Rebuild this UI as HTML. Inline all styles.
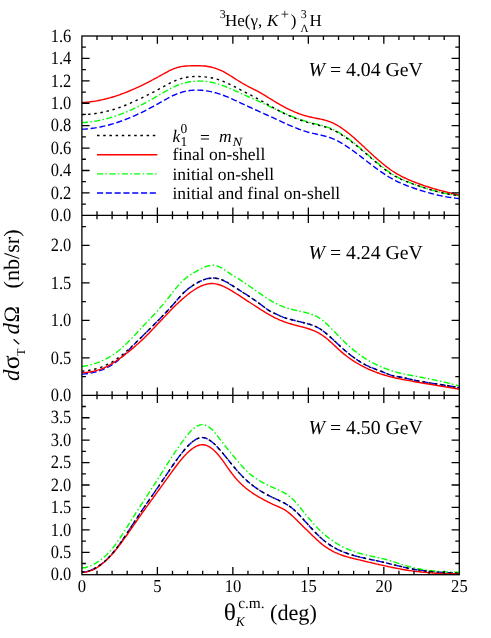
<!DOCTYPE html>
<html><head><meta charset="utf-8"><title>plot</title>
<style>
html,body{margin:0;padding:0;background:#fff;}
body{width:491px;height:638px;overflow:hidden;font-family:"Liberation Serif",serif;}
svg{display:block;position:absolute;left:0;top:0;will-change:transform;}
svg text{font-family:"Liberation Serif",serif;fill:#000;text-rendering:geometricPrecision;}
.it{font-style:italic;}
</style></head><body>
<svg width="491" height="638" viewBox="0 0 491 638">
<rect x="0" y="0" width="491" height="638" fill="#fff"/>

<g fill="none" stroke-width="1.4" stroke-linejoin="round">
<clipPath id="c1"><rect x="81.9" y="36.0" width="377.4" height="179.3"/></clipPath>
<g clip-path="url(#c1)">
<path d="M81.9 129.24 L83.4 129.17 L84.9 129.08 L86.4 128.96 L87.9 128.83 L89.4 128.68 L90.9 128.51 L92.4 128.31 L93.9 128.10 L95.4 127.87 L96.9 127.62 L98.4 127.35 L99.9 127.07 L101.4 126.76 L102.9 126.44 L104.4 126.09 L105.9 125.73 L107.4 125.36 L108.9 124.96 L110.4 124.55 L111.9 124.12 L113.4 123.67 L114.9 123.21 L116.4 122.73 L117.9 122.24 L119.4 121.73 L120.9 121.20 L122.4 120.65 L123.9 120.10 L125.4 119.52 L126.9 118.93 L128.4 118.33 L129.9 117.71 L131.4 117.08 L132.9 116.43 L134.4 115.77 L135.9 115.09 L137.4 114.40 L138.9 113.70 L140.4 112.98 L141.9 112.26 L143.4 111.52 L144.9 110.76 L146.4 110.00 L147.9 109.23 L149.4 108.44 L150.9 107.65 L152.4 106.85 L153.9 106.04 L155.4 105.22 L156.9 104.39 L158.4 103.56 L159.9 102.72 L161.4 101.87 L162.9 101.03 L164.4 100.18 L165.9 99.34 L167.4 98.51 L168.9 97.70 L170.4 96.92 L171.9 96.16 L173.4 95.43 L174.9 94.75 L176.4 94.11 L177.9 93.52 L179.4 92.98 L180.9 92.49 L182.4 92.05 L183.9 91.66 L185.4 91.31 L186.9 91.01 L188.4 90.76 L189.9 90.55 L191.4 90.38 L192.9 90.26 L194.4 90.17 L195.9 90.13 L197.4 90.12 L198.9 90.15 L200.4 90.22 L201.9 90.32 L203.4 90.46 L204.9 90.63 L206.4 90.84 L207.9 91.07 L209.4 91.34 L210.9 91.65 L212.4 91.98 L213.9 92.35 L215.4 92.75 L216.9 93.18 L218.4 93.64 L219.9 94.13 L221.4 94.64 L222.9 95.19 L224.4 95.76 L225.9 96.35 L227.4 96.96 L228.9 97.60 L230.4 98.24 L231.9 98.91 L233.4 99.58 L234.9 100.27 L236.4 100.96 L237.9 101.66 L239.4 102.36 L240.9 103.07 L242.4 103.78 L243.9 104.48 L245.4 105.18 L246.9 105.88 L248.4 106.57 L249.9 107.26 L251.4 107.94 L252.9 108.63 L254.4 109.31 L255.9 109.99 L257.4 110.67 L258.9 111.35 L260.4 112.03 L261.9 112.71 L263.4 113.38 L264.9 114.06 L266.4 114.74 L267.9 115.42 L269.4 116.10 L270.9 116.79 L272.4 117.47 L273.9 118.16 L275.4 118.85 L276.9 119.55 L278.4 120.24 L279.9 120.94 L281.4 121.63 L282.9 122.32 L284.4 123.01 L285.9 123.69 L287.4 124.37 L288.9 125.03 L290.4 125.69 L291.9 126.33 L293.4 126.96 L294.9 127.58 L296.4 128.18 L297.9 128.76 L299.4 129.33 L300.9 129.87 L302.4 130.40 L303.9 130.90 L305.4 131.37 L306.9 131.82 L308.4 132.25 L309.9 132.64 L311.4 133.01 L312.9 133.36 L314.4 133.69 L315.9 134.02 L317.4 134.34 L318.9 134.66 L320.4 134.99 L321.9 135.34 L323.4 135.70 L324.9 136.08 L326.4 136.50 L327.9 136.95 L329.4 137.44 L330.9 137.97 L332.4 138.56 L333.9 139.19 L335.4 139.88 L336.9 140.61 L338.4 141.38 L339.9 142.20 L341.4 143.05 L342.9 143.95 L344.4 144.87 L345.9 145.83 L347.4 146.82 L348.9 147.84 L350.4 148.88 L351.9 149.94 L353.4 151.03 L354.9 152.13 L356.4 153.25 L357.9 154.38 L359.4 155.52 L360.9 156.67 L362.4 157.83 L363.9 158.99 L365.4 160.15 L366.9 161.32 L368.4 162.48 L369.9 163.63 L371.4 164.78 L372.9 165.91 L374.4 167.04 L375.9 168.15 L377.4 169.25 L378.9 170.32 L380.4 171.38 L381.9 172.42 L383.4 173.44 L384.9 174.43 L386.4 175.40 L387.9 176.34 L389.4 177.25 L390.9 178.13 L392.4 178.97 L393.9 179.78 L395.4 180.55 L396.9 181.30 L398.4 182.02 L399.9 182.71 L401.4 183.37 L402.9 184.01 L404.4 184.63 L405.9 185.23 L407.4 185.81 L408.9 186.37 L410.4 186.92 L411.9 187.45 L413.4 187.98 L414.9 188.49 L416.4 189.00 L417.9 189.50 L419.4 189.98 L420.9 190.46 L422.4 190.93 L423.9 191.38 L425.4 191.83 L426.9 192.26 L428.4 192.68 L429.9 193.10 L431.4 193.50 L432.9 193.88 L434.4 194.26 L435.9 194.63 L437.4 194.98 L438.9 195.32 L440.4 195.64 L441.9 195.96 L443.4 196.26 L444.9 196.55 L446.4 196.82 L447.9 197.08 L449.4 197.32 L450.9 197.55 L452.4 197.77 L453.9 197.97 L455.4 198.16 L456.9 198.33 L458.4 198.49 L459.3 198.49" stroke="#0000ff" stroke-dasharray="6.1 2.7"/>
<path d="M81.9 122.62 L83.4 122.53 L84.9 122.43 L86.4 122.30 L87.9 122.15 L89.4 121.98 L90.9 121.80 L92.4 121.59 L93.9 121.36 L95.4 121.12 L96.9 120.86 L98.4 120.57 L99.9 120.27 L101.4 119.95 L102.9 119.61 L104.4 119.25 L105.9 118.88 L107.4 118.48 L108.9 118.07 L110.4 117.64 L111.9 117.19 L113.4 116.72 L114.9 116.24 L116.4 115.73 L117.9 115.21 L119.4 114.68 L120.9 114.12 L122.4 113.55 L123.9 112.96 L125.4 112.36 L126.9 111.74 L128.4 111.10 L129.9 110.44 L131.4 109.77 L132.9 109.09 L134.4 108.38 L135.9 107.66 L137.4 106.93 L138.9 106.18 L140.4 105.41 L141.9 104.63 L143.4 103.84 L144.9 103.03 L146.4 102.22 L147.9 101.39 L149.4 100.56 L150.9 99.72 L152.4 98.87 L153.9 98.01 L155.4 97.15 L156.9 96.29 L158.4 95.42 L159.9 94.55 L161.4 93.68 L162.9 92.81 L164.4 91.94 L165.9 91.08 L167.4 90.24 L168.9 89.42 L170.4 88.62 L171.9 87.85 L173.4 87.11 L174.9 86.41 L176.4 85.74 L177.9 85.12 L179.4 84.55 L180.9 84.02 L182.4 83.54 L183.9 83.10 L185.4 82.71 L186.9 82.36 L188.4 82.05 L189.9 81.79 L191.4 81.57 L192.9 81.39 L194.4 81.25 L195.9 81.15 L197.4 81.09 L198.9 81.07 L200.4 81.09 L201.9 81.14 L203.4 81.24 L204.9 81.37 L206.4 81.53 L207.9 81.74 L209.4 81.98 L210.9 82.25 L212.4 82.56 L213.9 82.90 L215.4 83.28 L216.9 83.69 L218.4 84.13 L219.9 84.60 L221.4 85.10 L222.9 85.63 L224.4 86.19 L225.9 86.77 L227.4 87.37 L228.9 87.99 L230.4 88.63 L231.9 89.28 L233.4 89.94 L234.9 90.62 L236.4 91.30 L237.9 91.98 L239.4 92.67 L240.9 93.36 L242.4 94.04 L243.9 94.73 L245.4 95.40 L246.9 96.07 L248.4 96.74 L249.9 97.40 L251.4 98.06 L252.9 98.73 L254.4 99.39 L255.9 100.06 L257.4 100.73 L258.9 101.41 L260.4 102.10 L261.9 102.79 L263.4 103.49 L264.9 104.20 L266.4 104.91 L267.9 105.62 L269.4 106.34 L270.9 107.05 L272.4 107.76 L273.9 108.47 L275.4 109.18 L276.9 109.88 L278.4 110.57 L279.9 111.26 L281.4 111.94 L282.9 112.61 L284.4 113.27 L285.9 113.92 L287.4 114.57 L288.9 115.20 L290.4 115.82 L291.9 116.42 L293.4 117.02 L294.9 117.59 L296.4 118.16 L297.9 118.71 L299.4 119.24 L300.9 119.76 L302.4 120.26 L303.9 120.74 L305.4 121.20 L306.9 121.65 L308.4 122.07 L309.9 122.47 L311.4 122.86 L312.9 123.23 L314.4 123.59 L315.9 123.95 L317.4 124.31 L318.9 124.68 L320.4 125.06 L321.9 125.46 L323.4 125.88 L324.9 126.33 L326.4 126.80 L327.9 127.31 L329.4 127.87 L330.9 128.47 L332.4 129.12 L333.9 129.82 L335.4 130.57 L336.9 131.36 L338.4 132.20 L339.9 133.08 L341.4 134.01 L342.9 134.97 L344.4 135.96 L345.9 136.99 L347.4 138.06 L348.9 139.15 L350.4 140.27 L351.9 141.42 L353.4 142.59 L354.9 143.78 L356.4 145.00 L357.9 146.23 L359.4 147.47 L360.9 148.73 L362.4 150.00 L363.9 151.28 L365.4 152.57 L366.9 153.86 L368.4 155.16 L369.9 156.46 L371.4 157.75 L372.9 159.04 L374.4 160.33 L375.9 161.61 L377.4 162.87 L378.9 164.12 L380.4 165.35 L381.9 166.55 L383.4 167.73 L384.9 168.88 L386.4 170.00 L387.9 171.09 L389.4 172.13 L390.9 173.14 L392.4 174.10 L393.9 175.01 L395.4 175.89 L396.9 176.72 L398.4 177.51 L399.9 178.26 L401.4 178.99 L402.9 179.68 L404.4 180.35 L405.9 180.99 L407.4 181.61 L408.9 182.21 L410.4 182.79 L411.9 183.36 L413.4 183.92 L414.9 184.47 L416.4 185.01 L417.9 185.55 L419.4 186.07 L420.9 186.59 L422.4 187.10 L423.9 187.59 L425.4 188.08 L426.9 188.55 L428.4 189.02 L429.9 189.47 L431.4 189.91 L432.9 190.34 L434.4 190.76 L435.9 191.17 L437.4 191.56 L438.9 191.94 L440.4 192.30 L441.9 192.65 L443.4 192.99 L444.9 193.31 L446.4 193.62 L447.9 193.91 L449.4 194.19 L450.9 194.45 L452.4 194.70 L453.9 194.92 L455.4 195.14 L456.9 195.33 L458.4 195.51 L459.3 195.51" stroke="#00ff00" stroke-dasharray="6.1 2.4 1.5 2.4"/>
<path d="M81.9 102.49 L83.4 102.42 L84.9 102.33 L86.4 102.21 L87.9 102.08 L89.4 101.92 L90.9 101.74 L92.4 101.54 L93.9 101.32 L95.4 101.08 L96.9 100.82 L98.4 100.55 L99.9 100.25 L101.4 99.93 L102.9 99.60 L104.4 99.25 L105.9 98.88 L107.4 98.49 L108.9 98.09 L110.4 97.67 L111.9 97.23 L113.4 96.77 L114.9 96.30 L116.4 95.82 L117.9 95.31 L119.4 94.79 L120.9 94.26 L122.4 93.71 L123.9 93.15 L125.4 92.57 L126.9 91.98 L128.4 91.37 L129.9 90.75 L131.4 90.12 L132.9 89.47 L134.4 88.81 L135.9 88.14 L137.4 87.46 L138.9 86.76 L140.4 86.05 L141.9 85.33 L143.4 84.60 L144.9 83.86 L146.4 83.11 L147.9 82.35 L149.4 81.58 L150.9 80.79 L152.4 80.00 L153.9 79.20 L155.4 78.39 L156.9 77.58 L158.4 76.75 L159.9 75.92 L161.4 75.08 L162.9 74.24 L164.4 73.40 L165.9 72.57 L167.4 71.77 L168.9 70.99 L170.4 70.24 L171.9 69.54 L173.4 68.90 L174.9 68.31 L176.4 67.79 L177.9 67.34 L179.4 66.97 L180.9 66.66 L182.4 66.41 L183.9 66.22 L185.4 66.07 L186.9 65.96 L188.4 65.89 L189.9 65.83 L191.4 65.80 L192.9 65.78 L194.4 65.76 L195.9 65.74 L197.4 65.73 L198.9 65.74 L200.4 65.77 L201.9 65.83 L203.4 65.93 L204.9 66.06 L206.4 66.24 L207.9 66.46 L209.4 66.73 L210.9 67.05 L212.4 67.41 L213.9 67.82 L215.4 68.29 L216.9 68.81 L218.4 69.38 L219.9 70.02 L221.4 70.71 L222.9 71.45 L224.4 72.24 L225.9 73.07 L227.4 73.93 L228.9 74.82 L230.4 75.74 L231.9 76.67 L233.4 77.62 L234.9 78.57 L236.4 79.52 L237.9 80.47 L239.4 81.41 L240.9 82.33 L242.4 83.23 L243.9 84.10 L245.4 84.94 L246.9 85.76 L248.4 86.55 L249.9 87.33 L251.4 88.09 L252.9 88.86 L254.4 89.62 L255.9 90.39 L257.4 91.18 L258.9 91.98 L260.4 92.81 L261.9 93.67 L263.4 94.55 L264.9 95.46 L266.4 96.37 L267.9 97.30 L269.4 98.24 L270.9 99.17 L272.4 100.10 L273.9 101.03 L275.4 101.94 L276.9 102.83 L278.4 103.71 L279.9 104.57 L281.4 105.41 L282.9 106.23 L284.4 107.03 L285.9 107.81 L287.4 108.57 L288.9 109.31 L290.4 110.03 L291.9 110.72 L293.4 111.39 L294.9 112.03 L296.4 112.65 L297.9 113.24 L299.4 113.80 L300.9 114.34 L302.4 114.85 L303.9 115.33 L305.4 115.78 L306.9 116.20 L308.4 116.59 L309.9 116.95 L311.4 117.29 L312.9 117.60 L314.4 117.90 L315.9 118.19 L317.4 118.47 L318.9 118.77 L320.4 119.08 L321.9 119.40 L323.4 119.76 L324.9 120.14 L326.4 120.57 L327.9 121.04 L329.4 121.56 L330.9 122.14 L332.4 122.78 L333.9 123.49 L335.4 124.27 L336.9 125.10 L338.4 125.99 L339.9 126.93 L341.4 127.92 L342.9 128.96 L344.4 130.05 L345.9 131.17 L347.4 132.34 L348.9 133.54 L350.4 134.77 L351.9 136.03 L353.4 137.32 L354.9 138.63 L356.4 139.97 L357.9 141.32 L359.4 142.69 L360.9 144.07 L362.4 145.46 L363.9 146.85 L365.4 148.25 L366.9 149.65 L368.4 151.05 L369.9 152.44 L371.4 153.82 L372.9 155.19 L374.4 156.55 L375.9 157.89 L377.4 159.22 L378.9 160.52 L380.4 161.80 L381.9 163.06 L383.4 164.29 L384.9 165.49 L386.4 166.66 L387.9 167.79 L389.4 168.89 L390.9 169.95 L392.4 170.97 L393.9 171.94 L395.4 172.88 L396.9 173.78 L398.4 174.64 L399.9 175.46 L401.4 176.26 L402.9 177.02 L404.4 177.75 L405.9 178.46 L407.4 179.15 L408.9 179.81 L410.4 180.45 L411.9 181.07 L413.4 181.68 L414.9 182.27 L416.4 182.85 L417.9 183.42 L419.4 183.97 L420.9 184.51 L422.4 185.03 L423.9 185.55 L425.4 186.05 L426.9 186.54 L428.4 187.03 L429.9 187.50 L431.4 187.96 L432.9 188.40 L434.4 188.84 L435.9 189.28 L437.4 189.70 L438.9 190.11 L440.4 190.51 L441.9 190.91 L443.4 191.30 L444.9 191.68 L446.4 192.05 L447.9 192.42 L449.4 192.78 L450.9 193.14 L452.4 193.49 L453.9 193.83 L455.4 194.17 L456.9 194.50 L458.4 194.83 L459.3 194.83" stroke="#ff0000"/>
<path d="M81.9 114.70 L83.4 114.65 L84.9 114.58 L86.4 114.49 L87.9 114.38 L89.4 114.25 L90.9 114.10 L92.4 113.94 L93.9 113.75 L95.4 113.54 L96.9 113.31 L98.4 113.07 L99.9 112.80 L101.4 112.52 L102.9 112.21 L104.4 111.88 L105.9 111.54 L107.4 111.17 L108.9 110.79 L110.4 110.38 L111.9 109.96 L113.4 109.51 L114.9 109.05 L116.4 108.56 L117.9 108.06 L119.4 107.53 L120.9 106.99 L122.4 106.42 L123.9 105.84 L125.4 105.24 L126.9 104.62 L128.4 103.99 L129.9 103.34 L131.4 102.68 L132.9 102.02 L134.4 101.34 L135.9 100.65 L137.4 99.96 L138.9 99.25 L140.4 98.55 L141.9 97.83 L143.4 97.11 L144.9 96.38 L146.4 95.64 L147.9 94.90 L149.4 94.15 L150.9 93.39 L152.4 92.62 L153.9 91.84 L155.4 91.06 L156.9 90.26 L158.4 89.45 L159.9 88.64 L161.4 87.82 L162.9 86.98 L164.4 86.15 L165.9 85.32 L167.4 84.51 L168.9 83.71 L170.4 82.93 L171.9 82.18 L173.4 81.47 L174.9 80.80 L176.4 80.18 L177.9 79.61 L179.4 79.09 L180.9 78.63 L182.4 78.22 L183.9 77.85 L185.4 77.54 L186.9 77.27 L188.4 77.04 L189.9 76.86 L191.4 76.71 L192.9 76.60 L194.4 76.53 L195.9 76.50 L197.4 76.50 L198.9 76.52 L200.4 76.58 L201.9 76.66 L203.4 76.77 L204.9 76.91 L206.4 77.08 L207.9 77.27 L209.4 77.50 L210.9 77.76 L212.4 78.06 L213.9 78.39 L215.4 78.76 L216.9 79.17 L218.4 79.63 L219.9 80.12 L221.4 80.65 L222.9 81.23 L224.4 81.84 L225.9 82.48 L227.4 83.15 L228.9 83.85 L230.4 84.57 L231.9 85.32 L233.4 86.07 L234.9 86.85 L236.4 87.63 L237.9 88.42 L239.4 89.22 L240.9 90.02 L242.4 90.82 L243.9 91.61 L245.4 92.39 L246.9 93.17 L248.4 93.94 L249.9 94.72 L251.4 95.49 L252.9 96.27 L254.4 97.06 L255.9 97.85 L257.4 98.65 L258.9 99.46 L260.4 100.29 L261.9 101.14 L263.4 101.99 L264.9 102.86 L266.4 103.73 L267.9 104.60 L269.4 105.47 L270.9 106.34 L272.4 107.20 L273.9 108.05 L275.4 108.88 L276.9 109.70 L278.4 110.49 L279.9 111.27 L281.4 112.04 L282.9 112.78 L284.4 113.50 L285.9 114.21 L287.4 114.90 L288.9 115.57 L290.4 116.22 L291.9 116.85 L293.4 117.47 L294.9 118.07 L296.4 118.64 L297.9 119.20 L299.4 119.74 L300.9 120.26 L302.4 120.76 L303.9 121.24 L305.4 121.70 L306.9 122.15 L308.4 122.57 L309.9 122.97 L311.4 123.36 L312.9 123.74 L314.4 124.11 L315.9 124.47 L317.4 124.84 L318.9 125.22 L320.4 125.61 L321.9 126.01 L323.4 126.44 L324.9 126.89 L326.4 127.37 L327.9 127.89 L329.4 128.45 L330.9 129.05 L332.4 129.70 L333.9 130.40 L335.4 131.15 L336.9 131.95 L338.4 132.79 L339.9 133.67 L341.4 134.59 L342.9 135.55 L344.4 136.54 L345.9 137.57 L347.4 138.63 L348.9 139.72 L350.4 140.84 L351.9 141.98 L353.4 143.15 L354.9 144.34 L356.4 145.55 L357.9 146.78 L359.4 148.02 L360.9 149.28 L362.4 150.55 L363.9 151.84 L365.4 153.13 L366.9 154.42 L368.4 155.73 L369.9 157.03 L371.4 158.34 L372.9 159.64 L374.4 160.94 L375.9 162.23 L377.4 163.50 L378.9 164.76 L380.4 166.00 L381.9 167.22 L383.4 168.40 L384.9 169.56 L386.4 170.68 L387.9 171.76 L389.4 172.80 L390.9 173.80 L392.4 174.74 L393.9 175.64 L395.4 176.48 L396.9 177.28 L398.4 178.04 L399.9 178.76 L401.4 179.45 L402.9 180.10 L404.4 180.73 L405.9 181.33 L407.4 181.91 L408.9 182.48 L410.4 183.03 L411.9 183.57 L413.4 184.10 L414.9 184.63 L416.4 185.15 L417.9 185.67 L419.4 186.18 L420.9 186.69 L422.4 187.19 L423.9 187.69 L425.4 188.17 L426.9 188.65 L428.4 189.12 L429.9 189.57 L431.4 190.02 L432.9 190.45 L434.4 190.88 L435.9 191.29 L437.4 191.68 L438.9 192.07 L440.4 192.43 L441.9 192.79 L443.4 193.12 L444.9 193.44 L446.4 193.74 L447.9 194.03 L449.4 194.29 L450.9 194.54 L452.4 194.77 L453.9 194.97 L455.4 195.15 L456.9 195.32 L458.4 195.45 L459.3 195.45" stroke="#000000" stroke-dasharray="2.5 3.7"/>
</g>
<clipPath id="c2"><rect x="81.9" y="215.3" width="377.4" height="180.0"/></clipPath>
<g clip-path="url(#c2)">
<path d="M81.9 374.23 L83.4 374.08 L84.9 373.91 L86.4 373.71 L87.9 373.50 L89.4 373.25 L90.9 372.98 L92.4 372.69 L93.9 372.35 L95.4 371.99 L96.9 371.58 L98.4 371.14 L99.9 370.65 L101.4 370.12 L102.9 369.54 L104.4 368.91 L105.9 368.23 L107.4 367.49 L108.9 366.69 L110.4 365.84 L111.9 364.92 L113.4 363.94 L114.9 362.89 L116.4 361.77 L117.9 360.58 L119.4 359.31 L120.9 357.97 L122.4 356.55 L123.9 355.07 L125.4 353.53 L126.9 351.97 L128.4 350.38 L129.9 348.79 L131.4 347.22 L132.9 345.66 L134.4 344.13 L135.9 342.62 L137.4 341.12 L138.9 339.62 L140.4 338.14 L141.9 336.66 L143.4 335.18 L144.9 333.70 L146.4 332.22 L147.9 330.74 L149.4 329.26 L150.9 327.78 L152.4 326.29 L153.9 324.80 L155.4 323.29 L156.9 321.78 L158.4 320.26 L159.9 318.73 L161.4 317.19 L162.9 315.63 L164.4 314.05 L165.9 312.46 L167.4 310.86 L168.9 309.23 L170.4 307.58 L171.9 305.91 L173.4 304.22 L174.9 302.51 L176.4 300.77 L177.9 299.01 L179.4 297.26 L180.9 295.58 L182.4 294.00 L183.9 292.53 L185.4 291.16 L186.9 289.89 L188.4 288.69 L189.9 287.57 L191.4 286.51 L192.9 285.51 L194.4 284.55 L195.9 283.64 L197.4 282.78 L198.9 281.97 L200.4 281.22 L201.9 280.53 L203.4 279.92 L204.9 279.38 L206.4 278.92 L207.9 278.54 L209.4 278.25 L210.9 278.06 L212.4 277.97 L213.9 277.98 L215.4 278.10 L216.9 278.33 L218.4 278.66 L219.9 279.10 L221.4 279.64 L222.9 280.28 L224.4 281.00 L225.9 281.81 L227.4 282.66 L228.9 283.56 L230.4 284.48 L231.9 285.40 L233.4 286.34 L234.9 287.27 L236.4 288.22 L237.9 289.16 L239.4 290.11 L240.9 291.06 L242.4 292.02 L243.9 292.99 L245.4 293.96 L246.9 294.93 L248.4 295.92 L249.9 296.92 L251.4 297.93 L252.9 298.96 L254.4 299.99 L255.9 301.05 L257.4 302.12 L258.9 303.20 L260.4 304.31 L261.9 305.43 L263.4 306.57 L264.9 307.69 L266.4 308.78 L267.9 309.81 L269.4 310.76 L270.9 311.60 L272.4 312.35 L273.9 313.03 L275.4 313.69 L276.9 314.36 L278.4 315.09 L279.9 315.83 L281.4 316.52 L282.9 317.13 L284.4 317.67 L285.9 318.16 L287.4 318.59 L288.9 319.00 L290.4 319.39 L291.9 319.76 L293.4 320.14 L294.9 320.53 L296.4 320.92 L297.9 321.30 L299.4 321.68 L300.9 322.05 L302.4 322.42 L303.9 322.78 L305.4 323.15 L306.9 323.54 L308.4 323.95 L309.9 324.39 L311.4 324.88 L312.9 325.42 L314.4 326.02 L315.9 326.68 L317.4 327.42 L318.9 328.25 L320.4 329.17 L321.9 330.18 L323.4 331.26 L324.9 332.42 L326.4 333.64 L327.9 334.91 L329.4 336.23 L330.9 337.58 L332.4 338.96 L333.9 340.37 L335.4 341.78 L336.9 343.19 L338.4 344.60 L339.9 346.00 L341.4 347.37 L342.9 348.72 L344.4 350.04 L345.9 351.33 L347.4 352.59 L348.9 353.82 L350.4 355.01 L351.9 356.17 L353.4 357.29 L354.9 358.37 L356.4 359.41 L357.9 360.42 L359.4 361.38 L360.9 362.30 L362.4 363.17 L363.9 364.00 L365.4 364.78 L366.9 365.51 L368.4 366.22 L369.9 366.89 L371.4 367.53 L372.9 368.15 L374.4 368.76 L375.9 369.35 L377.4 369.93 L378.9 370.51 L380.4 371.09 L381.9 371.67 L383.4 372.27 L384.9 372.88 L386.4 373.51 L387.9 374.12 L389.4 374.66 L390.9 375.12 L392.4 375.51 L393.9 375.85 L395.4 376.15 L396.9 376.42 L398.4 376.70 L399.9 376.98 L401.4 377.28 L402.9 377.60 L404.4 377.93 L405.9 378.28 L407.4 378.62 L408.9 378.97 L410.4 379.31 L411.9 379.64 L413.4 379.96 L414.9 380.27 L416.4 380.57 L417.9 380.85 L419.4 381.13 L420.9 381.40 L422.4 381.66 L423.9 381.92 L425.4 382.17 L426.9 382.41 L428.4 382.65 L429.9 382.88 L431.4 383.12 L432.9 383.35 L434.4 383.57 L435.9 383.80 L437.4 384.03 L438.9 384.26 L440.4 384.49 L441.9 384.72 L443.4 384.96 L444.9 385.20 L446.4 385.44 L447.9 385.70 L449.4 385.95 L450.9 386.22 L452.4 386.49 L453.9 386.77 L455.4 387.06 L456.9 387.36 L458.4 387.67 L459.3 387.84" stroke="#0000ff" stroke-dasharray="6.1 2.7"/>
<path d="M81.9 366.45 L83.4 366.25 L84.9 366.00 L86.4 365.73 L87.9 365.42 L89.4 365.09 L90.9 364.72 L92.4 364.32 L93.9 363.89 L95.4 363.42 L96.9 362.91 L98.4 362.36 L99.9 361.78 L101.4 361.15 L102.9 360.48 L104.4 359.77 L105.9 359.02 L107.4 358.22 L108.9 357.37 L110.4 356.48 L111.9 355.54 L113.4 354.54 L114.9 353.50 L116.4 352.40 L117.9 351.26 L119.4 350.05 L120.9 348.79 L122.4 347.48 L123.9 346.11 L125.4 344.70 L126.9 343.25 L128.4 341.76 L129.9 340.23 L131.4 338.68 L132.9 337.11 L134.4 335.51 L135.9 333.90 L137.4 332.29 L138.9 330.66 L140.4 329.04 L141.9 327.42 L143.4 325.80 L144.9 324.20 L146.4 322.61 L147.9 321.03 L149.4 319.44 L150.9 317.86 L152.4 316.27 L153.9 314.66 L155.4 313.05 L156.9 311.41 L158.4 309.76 L159.9 308.08 L161.4 306.36 L162.9 304.62 L164.4 302.84 L165.9 301.01 L167.4 299.14 L168.9 297.23 L170.4 295.30 L171.9 293.35 L173.4 291.42 L174.9 289.51 L176.4 287.66 L177.9 285.86 L179.4 284.15 L180.9 282.55 L182.4 281.05 L183.9 279.68 L185.4 278.41 L186.9 277.23 L188.4 276.14 L189.9 275.12 L191.4 274.16 L192.9 273.25 L194.4 272.38 L195.9 271.54 L197.4 270.72 L198.9 269.91 L200.4 269.11 L201.9 268.35 L203.4 267.64 L204.9 267.00 L206.4 266.43 L207.9 265.95 L209.4 265.59 L210.9 265.35 L212.4 265.24 L213.9 265.29 L215.4 265.50 L216.9 265.87 L218.4 266.39 L219.9 267.04 L221.4 267.82 L222.9 268.71 L224.4 269.68 L225.9 270.72 L227.4 271.78 L228.9 272.84 L230.4 273.87 L231.9 274.84 L233.4 275.77 L234.9 276.67 L236.4 277.57 L237.9 278.47 L239.4 279.40 L240.9 280.35 L242.4 281.32 L243.9 282.32 L245.4 283.33 L246.9 284.36 L248.4 285.41 L249.9 286.46 L251.4 287.52 L252.9 288.58 L254.4 289.65 L255.9 290.72 L257.4 291.78 L258.9 292.83 L260.4 293.87 L261.9 294.91 L263.4 295.92 L264.9 296.92 L266.4 297.90 L267.9 298.86 L269.4 299.78 L270.9 300.68 L272.4 301.55 L273.9 302.38 L275.4 303.18 L276.9 303.93 L278.4 304.64 L279.9 305.31 L281.4 305.94 L282.9 306.53 L284.4 307.09 L285.9 307.61 L287.4 308.10 L288.9 308.56 L290.4 309.00 L291.9 309.41 L293.4 309.80 L294.9 310.18 L296.4 310.53 L297.9 310.88 L299.4 311.21 L300.9 311.54 L302.4 311.86 L303.9 312.19 L305.4 312.53 L306.9 312.89 L308.4 313.29 L309.9 313.72 L311.4 314.21 L312.9 314.76 L314.4 315.39 L315.9 316.09 L317.4 316.88 L318.9 317.77 L320.4 318.76 L321.9 319.86 L323.4 321.05 L324.9 322.32 L326.4 323.66 L327.9 325.07 L329.4 326.52 L330.9 328.02 L332.4 329.55 L333.9 331.11 L335.4 332.68 L336.9 334.25 L338.4 335.81 L339.9 337.36 L341.4 338.88 L342.9 340.37 L344.4 341.83 L345.9 343.26 L347.4 344.66 L348.9 346.02 L350.4 347.35 L351.9 348.65 L353.4 349.91 L354.9 351.13 L356.4 352.32 L357.9 353.47 L359.4 354.58 L360.9 355.66 L362.4 356.69 L363.9 357.69 L365.4 358.64 L366.9 359.56 L368.4 360.44 L369.9 361.29 L371.4 362.10 L372.9 362.89 L374.4 363.64 L375.9 364.37 L377.4 365.08 L378.9 365.76 L380.4 366.42 L381.9 367.07 L383.4 367.69 L384.9 368.31 L386.4 368.91 L387.9 369.48 L389.4 370.03 L390.9 370.55 L392.4 371.03 L393.9 371.49 L395.4 371.92 L396.9 372.33 L398.4 372.71 L399.9 373.07 L401.4 373.42 L402.9 373.75 L404.4 374.07 L405.9 374.38 L407.4 374.67 L408.9 374.97 L410.4 375.25 L411.9 375.54 L413.4 375.83 L414.9 376.11 L416.4 376.40 L417.9 376.68 L419.4 376.97 L420.9 377.25 L422.4 377.54 L423.9 377.83 L425.4 378.12 L426.9 378.42 L428.4 378.71 L429.9 379.01 L431.4 379.32 L432.9 379.62 L434.4 379.94 L435.9 380.25 L437.4 380.57 L438.9 380.90 L440.4 381.23 L441.9 381.57 L443.4 381.91 L444.9 382.26 L446.4 382.62 L447.9 382.98 L449.4 383.36 L450.9 383.74 L452.4 384.12 L453.9 384.52 L455.4 384.93 L456.9 385.34 L458.4 385.77 L459.3 386.00" stroke="#00ff00" stroke-dasharray="6.1 2.4 1.5 2.4"/>
<path d="M81.9 372.77 L83.4 372.67 L84.9 372.55 L86.4 372.39 L87.9 372.21 L89.4 372.00 L90.9 371.75 L92.4 371.47 L93.9 371.15 L95.4 370.79 L96.9 370.39 L98.4 369.95 L99.9 369.46 L101.4 368.93 L102.9 368.34 L104.4 367.70 L105.9 367.01 L107.4 366.26 L108.9 365.46 L110.4 364.61 L111.9 363.71 L113.4 362.77 L114.9 361.79 L116.4 360.78 L117.9 359.73 L119.4 358.67 L120.9 357.58 L122.4 356.47 L123.9 355.34 L125.4 354.20 L126.9 353.03 L128.4 351.85 L129.9 350.64 L131.4 349.41 L132.9 348.16 L134.4 346.88 L135.9 345.58 L137.4 344.26 L138.9 342.90 L140.4 341.52 L141.9 340.12 L143.4 338.68 L144.9 337.22 L146.4 335.73 L147.9 334.22 L149.4 332.69 L150.9 331.15 L152.4 329.59 L153.9 328.01 L155.4 326.43 L156.9 324.84 L158.4 323.25 L159.9 321.65 L161.4 320.05 L162.9 318.45 L164.4 316.86 L165.9 315.28 L167.4 313.70 L168.9 312.14 L170.4 310.59 L171.9 309.06 L173.4 307.55 L174.9 306.06 L176.4 304.59 L177.9 303.15 L179.4 301.74 L180.9 300.36 L182.4 299.02 L183.9 297.71 L185.4 296.44 L186.9 295.21 L188.4 294.02 L189.9 292.88 L191.4 291.79 L192.9 290.75 L194.4 289.76 L195.9 288.83 L197.4 287.96 L198.9 287.15 L200.4 286.42 L201.9 285.75 L203.4 285.17 L204.9 284.67 L206.4 284.25 L207.9 283.93 L209.4 283.70 L210.9 283.57 L212.4 283.55 L213.9 283.63 L215.4 283.82 L216.9 284.11 L218.4 284.49 L219.9 284.96 L221.4 285.51 L222.9 286.13 L224.4 286.82 L225.9 287.56 L227.4 288.36 L228.9 289.19 L230.4 290.06 L231.9 290.95 L233.4 291.87 L234.9 292.80 L236.4 293.75 L237.9 294.70 L239.4 295.67 L240.9 296.64 L242.4 297.61 L243.9 298.59 L245.4 299.57 L246.9 300.56 L248.4 301.54 L249.9 302.52 L251.4 303.51 L252.9 304.49 L254.4 305.47 L255.9 306.44 L257.4 307.41 L258.9 308.37 L260.4 309.32 L261.9 310.27 L263.4 311.21 L264.9 312.13 L266.4 313.04 L267.9 313.93 L269.4 314.80 L270.9 315.65 L272.4 316.47 L273.9 317.26 L275.4 318.02 L276.9 318.74 L278.4 319.43 L279.9 320.08 L281.4 320.69 L282.9 321.27 L284.4 321.82 L285.9 322.35 L287.4 322.85 L288.9 323.32 L290.4 323.78 L291.9 324.22 L293.4 324.64 L294.9 325.06 L296.4 325.46 L297.9 325.86 L299.4 326.25 L300.9 326.64 L302.4 327.03 L303.9 327.43 L305.4 327.84 L306.9 328.27 L308.4 328.73 L309.9 329.21 L311.4 329.74 L312.9 330.31 L314.4 330.94 L315.9 331.61 L317.4 332.36 L318.9 333.17 L320.4 334.05 L321.9 335.01 L323.4 336.04 L324.9 337.14 L326.4 338.31 L327.9 339.55 L329.4 340.85 L330.9 342.19 L332.4 343.57 L333.9 344.97 L335.4 346.38 L336.9 347.79 L338.4 349.18 L339.9 350.55 L341.4 351.87 L342.9 353.14 L344.4 354.37 L345.9 355.56 L347.4 356.70 L348.9 357.81 L350.4 358.87 L351.9 359.90 L353.4 360.89 L354.9 361.84 L356.4 362.76 L357.9 363.65 L359.4 364.51 L360.9 365.34 L362.4 366.14 L363.9 366.91 L365.4 367.65 L366.9 368.37 L368.4 369.07 L369.9 369.74 L371.4 370.38 L372.9 371.01 L374.4 371.61 L375.9 372.18 L377.4 372.74 L378.9 373.28 L380.4 373.79 L381.9 374.29 L383.4 374.76 L384.9 375.22 L386.4 375.66 L387.9 376.08 L389.4 376.49 L390.9 376.87 L392.4 377.25 L393.9 377.61 L395.4 377.95 L396.9 378.29 L398.4 378.61 L399.9 378.92 L401.4 379.23 L402.9 379.52 L404.4 379.81 L405.9 380.09 L407.4 380.37 L408.9 380.64 L410.4 380.91 L411.9 381.18 L413.4 381.45 L414.9 381.71 L416.4 381.97 L417.9 382.23 L419.4 382.49 L420.9 382.75 L422.4 383.01 L423.9 383.26 L425.4 383.52 L426.9 383.77 L428.4 384.02 L429.9 384.28 L431.4 384.53 L432.9 384.78 L434.4 385.03 L435.9 385.27 L437.4 385.52 L438.9 385.77 L440.4 386.02 L441.9 386.26 L443.4 386.51 L444.9 386.75 L446.4 387.00 L447.9 387.25 L449.4 387.49 L450.9 387.74 L452.4 387.98 L453.9 388.23 L455.4 388.48 L456.9 388.72 L458.4 388.97 L459.3 389.10" stroke="#ff0000"/>
<path d="M81.9 371.10 L83.4 371.00 L84.9 370.85 L86.4 370.68 L87.9 370.48 L89.4 370.25 L90.9 369.98 L92.4 369.68 L93.9 369.34 L95.4 368.96 L96.9 368.55 L98.4 368.09 L99.9 367.60 L101.4 367.06 L102.9 366.48 L104.4 365.86 L105.9 365.19 L107.4 364.47 L108.9 363.71 L110.4 362.90 L111.9 362.04 L113.4 361.13 L114.9 360.18 L116.4 359.18 L117.9 358.13 L119.4 357.04 L120.9 355.90 L122.4 354.71 L123.9 353.47 L125.4 352.20 L126.9 350.89 L128.4 349.55 L129.9 348.19 L131.4 346.79 L132.9 345.38 L134.4 343.95 L135.9 342.51 L137.4 341.06 L138.9 339.61 L140.4 338.15 L141.9 336.69 L143.4 335.22 L144.9 333.76 L146.4 332.29 L147.9 330.81 L149.4 329.32 L150.9 327.83 L152.4 326.34 L153.9 324.83 L155.4 323.31 L156.9 321.79 L158.4 320.25 L159.9 318.71 L161.4 317.15 L162.9 315.58 L164.4 314.00 L165.9 312.40 L167.4 310.79 L168.9 309.16 L170.4 307.52 L171.9 305.86 L173.4 304.18 L174.9 302.49 L176.4 300.78 L177.9 299.05 L179.4 297.34 L180.9 295.68 L182.4 294.10 L183.9 292.60 L185.4 291.20 L186.9 289.87 L188.4 288.63 L189.9 287.46 L191.4 286.36 L192.9 285.32 L194.4 284.35 L195.9 283.44 L197.4 282.60 L198.9 281.83 L200.4 281.12 L201.9 280.48 L203.4 279.92 L204.9 279.43 L206.4 279.02 L207.9 278.68 L209.4 278.43 L210.9 278.26 L212.4 278.18 L213.9 278.19 L215.4 278.28 L216.9 278.47 L218.4 278.75 L219.9 279.12 L221.4 279.59 L222.9 280.16 L224.4 280.83 L225.9 281.58 L227.4 282.40 L228.9 283.28 L230.4 284.21 L231.9 285.18 L233.4 286.18 L234.9 287.19 L236.4 288.22 L237.9 289.23 L239.4 290.23 L240.9 291.22 L242.4 292.19 L243.9 293.15 L245.4 294.11 L246.9 295.06 L248.4 296.02 L249.9 296.98 L251.4 297.95 L252.9 298.94 L254.4 299.94 L255.9 300.96 L257.4 302.00 L258.9 303.08 L260.4 304.18 L261.9 305.32 L263.4 306.48 L264.9 307.63 L266.4 308.76 L267.9 309.83 L269.4 310.81 L270.9 311.67 L272.4 312.42 L273.9 313.10 L275.4 313.75 L276.9 314.40 L278.4 315.09 L279.9 315.81 L281.4 316.48 L282.9 317.07 L284.4 317.61 L285.9 318.10 L287.4 318.55 L288.9 318.96 L290.4 319.36 L291.9 319.76 L293.4 320.15 L294.9 320.54 L296.4 320.94 L297.9 321.32 L299.4 321.71 L300.9 322.08 L302.4 322.44 L303.9 322.79 L305.4 323.16 L306.9 323.54 L308.4 323.94 L309.9 324.38 L311.4 324.86 L312.9 325.39 L314.4 325.99 L315.9 326.65 L317.4 327.39 L318.9 328.22 L320.4 329.14 L321.9 330.16 L323.4 331.25 L324.9 332.42 L326.4 333.65 L327.9 334.94 L329.4 336.27 L330.9 337.63 L332.4 339.03 L333.9 340.44 L335.4 341.85 L336.9 343.27 L338.4 344.68 L339.9 346.07 L341.4 347.43 L342.9 348.76 L344.4 350.06 L345.9 351.32 L347.4 352.56 L348.9 353.76 L350.4 354.93 L351.9 356.07 L353.4 357.17 L354.9 358.24 L356.4 359.28 L357.9 360.28 L359.4 361.25 L360.9 362.19 L362.4 363.09 L363.9 363.96 L365.4 364.79 L366.9 365.58 L368.4 366.34 L369.9 367.05 L371.4 367.71 L372.9 368.33 L374.4 368.90 L375.9 369.43 L377.4 369.94 L378.9 370.44 L380.4 370.94 L381.9 371.48 L383.4 372.06 L384.9 372.70 L386.4 373.41 L387.9 374.13 L389.4 374.76 L390.9 375.27 L392.4 375.68 L393.9 376.01 L395.4 376.29 L396.9 376.53 L398.4 376.76 L399.9 377.01 L401.4 377.28 L402.9 377.59 L404.4 377.91 L405.9 378.25 L407.4 378.60 L408.9 378.95 L410.4 379.30 L411.9 379.63 L413.4 379.95 L414.9 380.26 L416.4 380.56 L417.9 380.85 L419.4 381.13 L420.9 381.40 L422.4 381.67 L423.9 381.92 L425.4 382.17 L426.9 382.42 L428.4 382.65 L429.9 382.89 L431.4 383.12 L432.9 383.35 L434.4 383.58 L435.9 383.80 L437.4 384.03 L438.9 384.26 L440.4 384.49 L441.9 384.72 L443.4 384.96 L444.9 385.20 L446.4 385.44 L447.9 385.69 L449.4 385.95 L450.9 386.21 L452.4 386.48 L453.9 386.76 L455.4 387.05 L456.9 387.35 L458.4 387.67 L459.3 387.84" stroke="#000000" stroke-dasharray="2.5 3.7"/>
</g>
<clipPath id="c3"><rect x="81.9" y="395.3" width="377.4" height="179.40000000000003"/></clipPath>
<g clip-path="url(#c3)">
<path d="M81.9 571.93 L83.4 571.93 L84.9 571.89 L86.4 571.56 L87.9 571.17 L89.4 570.69 L90.9 570.13 L92.4 569.50 L93.9 568.79 L95.4 567.99 L96.9 567.12 L98.4 566.17 L99.9 565.14 L101.4 564.03 L102.9 562.84 L104.4 561.56 L105.9 560.21 L107.4 558.77 L108.9 557.26 L110.4 555.65 L111.9 553.97 L113.4 552.20 L114.9 550.36 L116.4 548.43 L117.9 546.43 L119.4 544.37 L120.9 542.26 L122.4 540.09 L123.9 537.88 L125.4 535.64 L126.9 533.37 L128.4 531.08 L129.9 528.78 L131.4 526.47 L132.9 524.16 L134.4 521.85 L135.9 519.56 L137.4 517.29 L138.9 515.04 L140.4 512.81 L141.9 510.58 L143.4 508.38 L144.9 506.18 L146.4 503.99 L147.9 501.81 L149.4 499.63 L150.9 497.46 L152.4 495.29 L153.9 493.11 L155.4 490.94 L156.9 488.76 L158.4 486.58 L159.9 484.39 L161.4 482.19 L162.9 479.98 L164.4 477.75 L165.9 475.52 L167.4 473.29 L168.9 471.07 L170.4 468.86 L171.9 466.67 L173.4 464.50 L174.9 462.36 L176.4 460.25 L177.9 458.19 L179.4 456.18 L180.9 454.22 L182.4 452.32 L183.9 450.49 L185.4 448.73 L186.9 447.06 L188.4 445.48 L189.9 444.00 L191.4 442.64 L192.9 441.41 L194.4 440.33 L195.9 439.40 L197.4 438.64 L198.9 438.06 L200.4 437.69 L201.9 437.54 L203.4 437.62 L204.9 437.92 L206.4 438.44 L207.9 439.15 L209.4 440.03 L210.9 441.08 L212.4 442.27 L213.9 443.59 L215.4 445.02 L216.9 446.56 L218.4 448.17 L219.9 449.85 L221.4 451.59 L222.9 453.37 L224.4 455.18 L225.9 457.01 L227.4 458.87 L228.9 460.73 L230.4 462.59 L231.9 464.44 L233.4 466.27 L234.9 468.07 L236.4 469.84 L237.9 471.56 L239.4 473.22 L240.9 474.83 L242.4 476.37 L243.9 477.86 L245.4 479.28 L246.9 480.65 L248.4 481.97 L249.9 483.23 L251.4 484.45 L252.9 485.62 L254.4 486.74 L255.9 487.82 L257.4 488.86 L258.9 489.85 L260.4 490.81 L261.9 491.74 L263.4 492.63 L264.9 493.49 L266.4 494.32 L267.9 495.12 L269.4 495.89 L270.9 496.64 L272.4 497.37 L273.9 498.08 L275.4 498.78 L276.9 499.46 L278.4 500.15 L279.9 500.86 L281.4 501.58 L282.9 502.34 L284.4 503.13 L285.9 503.98 L287.4 504.88 L288.9 505.86 L290.4 506.91 L291.9 508.05 L293.4 509.29 L294.9 510.63 L296.4 512.05 L297.9 513.54 L299.4 515.09 L300.9 516.70 L302.4 518.33 L303.9 519.99 L305.4 521.66 L306.9 523.33 L308.4 525.01 L309.9 526.67 L311.4 528.32 L312.9 529.95 L314.4 531.54 L315.9 533.10 L317.4 534.61 L318.9 536.07 L320.4 537.47 L321.9 538.81 L323.4 540.09 L324.9 541.30 L326.4 542.45 L327.9 543.54 L329.4 544.58 L330.9 545.57 L332.4 546.50 L333.9 547.39 L335.4 548.23 L336.9 549.02 L338.4 549.77 L339.9 550.48 L341.4 551.15 L342.9 551.79 L344.4 552.39 L345.9 552.95 L347.4 553.49 L348.9 554.00 L350.4 554.48 L351.9 554.94 L353.4 555.38 L354.9 555.80 L356.4 556.20 L357.9 556.59 L359.4 556.96 L360.9 557.32 L362.4 557.68 L363.9 558.02 L365.4 558.35 L366.9 558.69 L368.4 559.01 L369.9 559.33 L371.4 559.65 L372.9 559.97 L374.4 560.29 L375.9 560.60 L377.4 560.93 L378.9 561.25 L380.4 561.58 L381.9 561.91 L383.4 562.25 L384.9 562.60 L386.4 562.96 L387.9 563.32 L389.4 563.69 L390.9 564.06 L392.4 564.43 L393.9 564.81 L395.4 565.18 L396.9 565.56 L398.4 565.93 L399.9 566.29 L401.4 566.65 L402.9 567.01 L404.4 567.35 L405.9 567.69 L407.4 568.02 L408.9 568.33 L410.4 568.63 L411.9 568.92 L413.4 569.19 L414.9 569.45 L416.4 569.70 L417.9 569.94 L419.4 570.16 L420.9 570.37 L422.4 570.57 L423.9 570.76 L425.4 570.94 L426.9 571.11 L428.4 571.27 L429.9 571.42 L431.4 571.56 L432.9 571.69 L434.4 571.82 L435.9 571.93 L437.4 572.04 L438.9 572.14 L440.4 572.24 L441.9 572.32 L443.4 572.41 L444.9 572.48 L446.4 572.55 L447.9 572.62 L449.4 572.68 L450.9 572.74 L452.4 572.79 L453.9 572.84 L455.4 572.89 L456.9 572.93 L458.4 572.98 L459.3 572.99" stroke="#0000ff" stroke-dasharray="6.1 2.7"/>
<path d="M81.9 567.80 L83.4 567.80 L84.9 567.73 L86.4 567.27 L87.9 566.76 L89.4 566.19 L90.9 565.57 L92.4 564.88 L93.9 564.13 L95.4 563.31 L96.9 562.42 L98.4 561.46 L99.9 560.42 L101.4 559.31 L102.9 558.11 L104.4 556.83 L105.9 555.47 L107.4 554.01 L108.9 552.47 L110.4 550.83 L111.9 549.09 L113.4 547.26 L114.9 545.32 L116.4 543.29 L117.9 541.18 L119.4 539.00 L120.9 536.75 L122.4 534.45 L123.9 532.10 L125.4 529.72 L126.9 527.33 L128.4 524.91 L129.9 522.50 L131.4 520.10 L132.9 517.71 L134.4 515.33 L135.9 512.98 L137.4 510.63 L138.9 508.29 L140.4 505.97 L141.9 503.65 L143.4 501.33 L144.9 499.02 L146.4 496.71 L147.9 494.41 L149.4 492.10 L150.9 489.78 L152.4 487.47 L153.9 485.14 L155.4 482.81 L156.9 480.47 L158.4 478.11 L159.9 475.75 L161.4 473.38 L162.9 471.01 L164.4 468.64 L165.9 466.27 L167.4 463.92 L168.9 461.57 L170.4 459.24 L171.9 456.93 L173.4 454.64 L174.9 452.38 L176.4 450.14 L177.9 447.94 L179.4 445.77 L180.9 443.64 L182.4 441.56 L183.9 439.52 L185.4 437.54 L186.9 435.64 L188.4 433.84 L189.9 432.15 L191.4 430.58 L192.9 429.16 L194.4 427.90 L195.9 426.82 L197.4 425.94 L198.9 425.27 L200.4 424.83 L201.9 424.63 L203.4 424.69 L204.9 425.01 L206.4 425.58 L207.9 426.38 L209.4 427.41 L210.9 428.64 L212.4 430.08 L213.9 431.68 L215.4 433.42 L216.9 435.26 L218.4 437.17 L219.9 439.12 L221.4 441.08 L222.9 443.02 L224.4 444.94 L225.9 446.84 L227.4 448.72 L228.9 450.58 L230.4 452.43 L231.9 454.26 L233.4 456.07 L234.9 457.87 L236.4 459.65 L237.9 461.42 L239.4 463.17 L240.9 464.89 L242.4 466.56 L243.9 468.19 L245.4 469.75 L246.9 471.23 L248.4 472.63 L249.9 473.94 L251.4 475.17 L252.9 476.33 L254.4 477.41 L255.9 478.43 L257.4 479.40 L258.9 480.32 L260.4 481.20 L261.9 482.03 L263.4 482.84 L264.9 483.63 L266.4 484.39 L267.9 485.14 L269.4 485.86 L270.9 486.57 L272.4 487.27 L273.9 487.95 L275.4 488.63 L276.9 489.29 L278.4 489.96 L279.9 490.65 L281.4 491.38 L282.9 492.14 L284.4 492.97 L285.9 493.86 L287.4 494.83 L288.9 495.90 L290.4 497.08 L291.9 498.38 L293.4 499.82 L294.9 501.38 L296.4 503.06 L297.9 504.82 L299.4 506.65 L300.9 508.51 L302.4 510.39 L303.9 512.27 L305.4 514.13 L306.9 515.97 L308.4 517.78 L309.9 519.56 L311.4 521.31 L312.9 523.01 L314.4 524.68 L315.9 526.30 L317.4 527.87 L318.9 529.38 L320.4 530.84 L321.9 532.25 L323.4 533.60 L324.9 534.90 L326.4 536.15 L327.9 537.36 L329.4 538.51 L330.9 539.61 L332.4 540.67 L333.9 541.69 L335.4 542.66 L336.9 543.59 L338.4 544.48 L339.9 545.33 L341.4 546.14 L342.9 546.91 L344.4 547.64 L345.9 548.35 L347.4 549.01 L348.9 549.65 L350.4 550.25 L351.9 550.82 L353.4 551.36 L354.9 551.88 L356.4 552.37 L357.9 552.83 L359.4 553.26 L360.9 553.68 L362.4 554.07 L363.9 554.45 L365.4 554.81 L366.9 555.15 L368.4 555.49 L369.9 555.82 L371.4 556.14 L372.9 556.46 L374.4 556.78 L375.9 557.10 L377.4 557.43 L378.9 557.77 L380.4 558.12 L381.9 558.48 L383.4 558.86 L384.9 559.26 L386.4 559.68 L387.9 560.11 L389.4 560.55 L390.9 561.01 L392.4 561.48 L393.9 561.95 L395.4 562.43 L396.9 562.91 L398.4 563.39 L399.9 563.87 L401.4 564.34 L402.9 564.81 L404.4 565.27 L405.9 565.72 L407.4 566.15 L408.9 566.57 L410.4 566.97 L411.9 567.35 L413.4 567.71 L414.9 568.06 L416.4 568.38 L417.9 568.69 L419.4 568.98 L420.9 569.26 L422.4 569.51 L423.9 569.76 L425.4 569.99 L426.9 570.20 L428.4 570.40 L429.9 570.59 L431.4 570.76 L432.9 570.92 L434.4 571.07 L435.9 571.21 L437.4 571.34 L438.9 571.46 L440.4 571.56 L441.9 571.66 L443.4 571.75 L444.9 571.83 L446.4 571.91 L447.9 571.97 L449.4 572.03 L450.9 572.08 L452.4 572.13 L453.9 572.17 L455.4 572.21 L456.9 572.25 L458.4 572.28 L459.3 572.29" stroke="#00ff00" stroke-dasharray="6.1 2.4 1.5 2.4"/>
<path d="M81.9 572.21 L83.4 572.21 L84.9 572.18 L86.4 571.95 L87.9 571.61 L89.4 571.18 L90.9 570.66 L92.4 570.04 L93.9 569.34 L95.4 568.54 L96.9 567.66 L98.4 566.69 L99.9 565.64 L101.4 564.51 L102.9 563.29 L104.4 562.00 L105.9 560.64 L107.4 559.20 L108.9 557.69 L110.4 556.11 L111.9 554.46 L113.4 552.74 L114.9 550.96 L116.4 549.12 L117.9 547.23 L119.4 545.29 L120.9 543.30 L122.4 541.27 L123.9 539.20 L125.4 537.11 L126.9 534.99 L128.4 532.85 L129.9 530.69 L131.4 528.52 L132.9 526.35 L134.4 524.18 L135.9 522.01 L137.4 519.85 L138.9 517.71 L140.4 515.58 L141.9 513.46 L143.4 511.35 L144.9 509.25 L146.4 507.16 L147.9 505.07 L149.4 502.99 L150.9 500.92 L152.4 498.85 L153.9 496.78 L155.4 494.72 L156.9 492.65 L158.4 490.58 L159.9 488.51 L161.4 486.44 L162.9 484.36 L164.4 482.27 L165.9 480.18 L167.4 478.08 L168.9 475.98 L170.4 473.88 L171.9 471.80 L173.4 469.74 L174.9 467.71 L176.4 465.71 L177.9 463.75 L179.4 461.85 L180.9 460.01 L182.4 458.23 L183.9 456.53 L185.4 454.90 L186.9 453.37 L188.4 451.93 L189.9 450.60 L191.4 449.38 L192.9 448.28 L194.4 447.31 L195.9 446.47 L197.4 445.78 L198.9 445.25 L200.4 444.90 L201.9 444.74 L203.4 444.78 L204.9 445.02 L206.4 445.45 L207.9 446.07 L209.4 446.86 L210.9 447.83 L212.4 448.96 L213.9 450.24 L215.4 451.68 L216.9 453.26 L218.4 454.98 L219.9 456.82 L221.4 458.79 L222.9 460.85 L224.4 462.97 L225.9 465.13 L227.4 467.29 L228.9 469.43 L230.4 471.52 L231.9 473.53 L233.4 475.44 L234.9 477.26 L236.4 478.99 L237.9 480.64 L239.4 482.20 L240.9 483.69 L242.4 485.11 L243.9 486.46 L245.4 487.74 L246.9 488.96 L248.4 490.13 L249.9 491.24 L251.4 492.30 L252.9 493.32 L254.4 494.30 L255.9 495.24 L257.4 496.15 L258.9 497.03 L260.4 497.88 L261.9 498.72 L263.4 499.53 L264.9 500.34 L266.4 501.13 L267.9 501.90 L269.4 502.66 L270.9 503.40 L272.4 504.11 L273.9 504.80 L275.4 505.46 L276.9 506.10 L278.4 506.74 L279.9 507.40 L281.4 508.10 L282.9 508.86 L284.4 509.70 L285.9 510.65 L287.4 511.71 L288.9 512.87 L290.4 514.11 L291.9 515.43 L293.4 516.81 L294.9 518.24 L296.4 519.71 L297.9 521.20 L299.4 522.70 L300.9 524.21 L302.4 525.71 L303.9 527.18 L305.4 528.63 L306.9 530.07 L308.4 531.51 L309.9 532.95 L311.4 534.41 L312.9 535.88 L314.4 537.34 L315.9 538.79 L317.4 540.20 L318.9 541.57 L320.4 542.88 L321.9 544.12 L323.4 545.29 L324.9 546.40 L326.4 547.44 L327.9 548.42 L329.4 549.35 L330.9 550.22 L332.4 551.03 L333.9 551.80 L335.4 552.52 L336.9 553.19 L338.4 553.83 L339.9 554.43 L341.4 554.99 L342.9 555.51 L344.4 556.01 L345.9 556.48 L347.4 556.93 L348.9 557.35 L350.4 557.76 L351.9 558.14 L353.4 558.52 L354.9 558.88 L356.4 559.24 L357.9 559.59 L359.4 559.94 L360.9 560.29 L362.4 560.64 L363.9 561.00 L365.4 561.35 L366.9 561.70 L368.4 562.06 L369.9 562.41 L371.4 562.76 L372.9 563.11 L374.4 563.46 L375.9 563.81 L377.4 564.16 L378.9 564.51 L380.4 564.85 L381.9 565.19 L383.4 565.52 L384.9 565.86 L386.4 566.19 L387.9 566.51 L389.4 566.83 L390.9 567.15 L392.4 567.46 L393.9 567.76 L395.4 568.06 L396.9 568.35 L398.4 568.64 L399.9 568.92 L401.4 569.19 L402.9 569.46 L404.4 569.72 L405.9 569.97 L407.4 570.21 L408.9 570.44 L410.4 570.66 L411.9 570.88 L413.4 571.08 L414.9 571.28 L416.4 571.47 L417.9 571.65 L419.4 571.82 L420.9 571.98 L422.4 572.13 L423.9 572.28 L425.4 572.42 L426.9 572.55 L428.4 572.67 L429.9 572.79 L431.4 572.90 L432.9 573.00 L434.4 573.09 L435.9 573.18 L437.4 573.26 L438.9 573.34 L440.4 573.41 L441.9 573.47 L443.4 573.53 L444.9 573.58 L446.4 573.62 L447.9 573.66 L449.4 573.70 L450.9 573.73 L452.4 573.76 L453.9 573.78 L455.4 573.79 L456.9 573.80 L458.4 573.81 L459.3 573.81" stroke="#ff0000"/>
<path d="M81.9 571.93 L83.4 571.93 L84.9 571.89 L86.4 571.56 L87.9 571.17 L89.4 570.69 L90.9 570.13 L92.4 569.50 L93.9 568.79 L95.4 567.99 L96.9 567.12 L98.4 566.17 L99.9 565.14 L101.4 564.03 L102.9 562.84 L104.4 561.56 L105.9 560.21 L107.4 558.77 L108.9 557.26 L110.4 555.65 L111.9 553.97 L113.4 552.20 L114.9 550.36 L116.4 548.43 L117.9 546.43 L119.4 544.37 L120.9 542.26 L122.4 540.09 L123.9 537.88 L125.4 535.64 L126.9 533.37 L128.4 531.08 L129.9 528.78 L131.4 526.47 L132.9 524.16 L134.4 521.85 L135.9 519.56 L137.4 517.29 L138.9 515.04 L140.4 512.81 L141.9 510.58 L143.4 508.38 L144.9 506.18 L146.4 503.99 L147.9 501.81 L149.4 499.63 L150.9 497.46 L152.4 495.29 L153.9 493.11 L155.4 490.94 L156.9 488.76 L158.4 486.58 L159.9 484.39 L161.4 482.19 L162.9 479.98 L164.4 477.75 L165.9 475.52 L167.4 473.29 L168.9 471.07 L170.4 468.86 L171.9 466.67 L173.4 464.50 L174.9 462.36 L176.4 460.25 L177.9 458.19 L179.4 456.18 L180.9 454.22 L182.4 452.32 L183.9 450.49 L185.4 448.73 L186.9 447.06 L188.4 445.48 L189.9 444.00 L191.4 442.64 L192.9 441.41 L194.4 440.33 L195.9 439.40 L197.4 438.64 L198.9 438.06 L200.4 437.69 L201.9 437.54 L203.4 437.62 L204.9 437.92 L206.4 438.44 L207.9 439.15 L209.4 440.03 L210.9 441.08 L212.4 442.27 L213.9 443.59 L215.4 445.02 L216.9 446.56 L218.4 448.17 L219.9 449.85 L221.4 451.59 L222.9 453.37 L224.4 455.18 L225.9 457.01 L227.4 458.87 L228.9 460.73 L230.4 462.59 L231.9 464.44 L233.4 466.27 L234.9 468.07 L236.4 469.84 L237.9 471.56 L239.4 473.22 L240.9 474.83 L242.4 476.37 L243.9 477.86 L245.4 479.28 L246.9 480.65 L248.4 481.97 L249.9 483.23 L251.4 484.45 L252.9 485.62 L254.4 486.74 L255.9 487.82 L257.4 488.86 L258.9 489.85 L260.4 490.81 L261.9 491.74 L263.4 492.63 L264.9 493.49 L266.4 494.32 L267.9 495.12 L269.4 495.89 L270.9 496.64 L272.4 497.37 L273.9 498.08 L275.4 498.78 L276.9 499.46 L278.4 500.15 L279.9 500.86 L281.4 501.58 L282.9 502.34 L284.4 503.13 L285.9 503.98 L287.4 504.88 L288.9 505.86 L290.4 506.91 L291.9 508.05 L293.4 509.29 L294.9 510.63 L296.4 512.05 L297.9 513.54 L299.4 515.09 L300.9 516.70 L302.4 518.33 L303.9 519.99 L305.4 521.66 L306.9 523.33 L308.4 525.01 L309.9 526.67 L311.4 528.32 L312.9 529.95 L314.4 531.54 L315.9 533.10 L317.4 534.61 L318.9 536.07 L320.4 537.47 L321.9 538.81 L323.4 540.09 L324.9 541.30 L326.4 542.45 L327.9 543.54 L329.4 544.58 L330.9 545.57 L332.4 546.50 L333.9 547.39 L335.4 548.23 L336.9 549.02 L338.4 549.77 L339.9 550.48 L341.4 551.15 L342.9 551.79 L344.4 552.39 L345.9 552.95 L347.4 553.49 L348.9 554.00 L350.4 554.48 L351.9 554.94 L353.4 555.38 L354.9 555.80 L356.4 556.20 L357.9 556.59 L359.4 556.96 L360.9 557.32 L362.4 557.68 L363.9 558.02 L365.4 558.35 L366.9 558.69 L368.4 559.01 L369.9 559.33 L371.4 559.65 L372.9 559.97 L374.4 560.29 L375.9 560.60 L377.4 560.93 L378.9 561.25 L380.4 561.58 L381.9 561.91 L383.4 562.25 L384.9 562.60 L386.4 562.96 L387.9 563.32 L389.4 563.69 L390.9 564.06 L392.4 564.43 L393.9 564.81 L395.4 565.18 L396.9 565.56 L398.4 565.93 L399.9 566.29 L401.4 566.65 L402.9 567.01 L404.4 567.35 L405.9 567.69 L407.4 568.02 L408.9 568.33 L410.4 568.63 L411.9 568.92 L413.4 569.19 L414.9 569.45 L416.4 569.70 L417.9 569.94 L419.4 570.16 L420.9 570.37 L422.4 570.57 L423.9 570.76 L425.4 570.94 L426.9 571.11 L428.4 571.27 L429.9 571.42 L431.4 571.56 L432.9 571.69 L434.4 571.82 L435.9 571.93 L437.4 572.04 L438.9 572.14 L440.4 572.24 L441.9 572.32 L443.4 572.41 L444.9 572.48 L446.4 572.55 L447.9 572.62 L449.4 572.68 L450.9 572.74 L452.4 572.79 L453.9 572.84 L455.4 572.89 L456.9 572.93 L458.4 572.98 L459.3 572.99" stroke="#000000" stroke-dasharray="2.5 3.7"/>
</g>
<path d="M97.0 135.55 L157.3 135.55" stroke="#000000" stroke-dasharray="2.5 3.7"/>
<path d="M97.0 154.7 L157.3 154.7" stroke="#ff0000"/>
<path d="M97.0 173.9 L157.3 173.9" stroke="#00ff00" stroke-dasharray="6.1 2.4 1.5 2.4"/>
<path d="M97.0 193.0 L157.3 193.0" stroke="#0000ff" stroke-dasharray="6.1 2.7"/>
</g>
<g stroke="#000" stroke-width="1.3" fill="none" stroke-linecap="butt">
<rect x="81.9" y="36.0" width="377.40" height="538.70"/>
<path d="M81.9 215.3 H459.3 M81.9 395.3 H459.3"/>
<path d="M97.00 36.0 v4.0 M97.00 211.3 v8.0 M97.00 391.3 v8.0 M97.00 574.7 v-4.0 M112.09 36.0 v4.0 M112.09 211.3 v8.0 M112.09 391.3 v8.0 M112.09 574.7 v-4.0 M127.19 36.0 v4.0 M127.19 211.3 v8.0 M127.19 391.3 v8.0 M127.19 574.7 v-4.0 M142.28 36.0 v4.0 M142.28 211.3 v8.0 M142.28 391.3 v8.0 M142.28 574.7 v-4.0 M157.38 36.0 v7.7 M157.38 207.60000000000002 v15.4 M157.38 387.6 v15.4 M157.38 574.7 v-7.7 M172.48 36.0 v4.0 M172.48 211.3 v8.0 M172.48 391.3 v8.0 M172.48 574.7 v-4.0 M187.57 36.0 v4.0 M187.57 211.3 v8.0 M187.57 391.3 v8.0 M187.57 574.7 v-4.0 M202.67 36.0 v4.0 M202.67 211.3 v8.0 M202.67 391.3 v8.0 M202.67 574.7 v-4.0 M217.76 36.0 v4.0 M217.76 211.3 v8.0 M217.76 391.3 v8.0 M217.76 574.7 v-4.0 M232.86 36.0 v7.7 M232.86 207.60000000000002 v15.4 M232.86 387.6 v15.4 M232.86 574.7 v-7.7 M247.96 36.0 v4.0 M247.96 211.3 v8.0 M247.96 391.3 v8.0 M247.96 574.7 v-4.0 M263.05 36.0 v4.0 M263.05 211.3 v8.0 M263.05 391.3 v8.0 M263.05 574.7 v-4.0 M278.15 36.0 v4.0 M278.15 211.3 v8.0 M278.15 391.3 v8.0 M278.15 574.7 v-4.0 M293.24 36.0 v4.0 M293.24 211.3 v8.0 M293.24 391.3 v8.0 M293.24 574.7 v-4.0 M308.34 36.0 v7.7 M308.34 207.60000000000002 v15.4 M308.34 387.6 v15.4 M308.34 574.7 v-7.7 M323.44 36.0 v4.0 M323.44 211.3 v8.0 M323.44 391.3 v8.0 M323.44 574.7 v-4.0 M338.53 36.0 v4.0 M338.53 211.3 v8.0 M338.53 391.3 v8.0 M338.53 574.7 v-4.0 M353.63 36.0 v4.0 M353.63 211.3 v8.0 M353.63 391.3 v8.0 M353.63 574.7 v-4.0 M368.72 36.0 v4.0 M368.72 211.3 v8.0 M368.72 391.3 v8.0 M368.72 574.7 v-4.0 M383.82 36.0 v7.7 M383.82 207.60000000000002 v15.4 M383.82 387.6 v15.4 M383.82 574.7 v-7.7 M398.92 36.0 v4.0 M398.92 211.3 v8.0 M398.92 391.3 v8.0 M398.92 574.7 v-4.0 M414.01 36.0 v4.0 M414.01 211.3 v8.0 M414.01 391.3 v8.0 M414.01 574.7 v-4.0 M429.11 36.0 v4.0 M429.11 211.3 v8.0 M429.11 391.3 v8.0 M429.11 574.7 v-4.0 M444.20 36.0 v4.0 M444.20 211.3 v8.0 M444.20 391.3 v8.0 M444.20 574.7 v-4.0 M81.9 204.09 h4.0 M459.3 204.09 h-4.0 M81.9 192.89 h7.7 M459.3 192.89 h-7.7 M81.9 181.68 h4.0 M459.3 181.68 h-4.0 M81.9 170.48 h7.7 M459.3 170.48 h-7.7 M81.9 159.27 h4.0 M459.3 159.27 h-4.0 M81.9 148.06 h7.7 M459.3 148.06 h-7.7 M81.9 136.86 h4.0 M459.3 136.86 h-4.0 M81.9 125.65 h7.7 M459.3 125.65 h-7.7 M81.9 114.44 h4.0 M459.3 114.44 h-4.0 M81.9 103.24 h7.7 M459.3 103.24 h-7.7 M81.9 92.03 h4.0 M459.3 92.03 h-4.0 M81.9 80.82 h7.7 M459.3 80.82 h-7.7 M81.9 69.62 h4.0 M459.3 69.62 h-4.0 M81.9 58.41 h7.7 M459.3 58.41 h-7.7 M81.9 47.21 h4.0 M459.3 47.21 h-4.0 M81.9 376.55 h4.0 M459.3 376.55 h-4.0 M81.9 357.80 h7.7 M459.3 357.80 h-7.7 M81.9 339.05 h4.0 M459.3 339.05 h-4.0 M81.9 320.30 h7.7 M459.3 320.30 h-7.7 M81.9 301.55 h4.0 M459.3 301.55 h-4.0 M81.9 282.80 h7.7 M459.3 282.80 h-7.7 M81.9 264.05 h4.0 M459.3 264.05 h-4.0 M81.9 245.30 h7.7 M459.3 245.30 h-7.7 M81.9 226.55 h4.0 M459.3 226.55 h-4.0 M81.9 563.49 h4.0 M459.3 563.49 h-4.0 M81.9 552.28 h7.7 M459.3 552.28 h-7.7 M81.9 541.06 h4.0 M459.3 541.06 h-4.0 M81.9 529.85 h7.7 M459.3 529.85 h-7.7 M81.9 518.64 h4.0 M459.3 518.64 h-4.0 M81.9 507.43 h7.7 M459.3 507.43 h-7.7 M81.9 496.21 h4.0 M459.3 496.21 h-4.0 M81.9 485.00 h7.7 M459.3 485.00 h-7.7 M81.9 473.79 h4.0 M459.3 473.79 h-4.0 M81.9 462.58 h7.7 M459.3 462.58 h-7.7 M81.9 451.36 h4.0 M459.3 451.36 h-4.0 M81.9 440.15 h7.7 M459.3 440.15 h-7.7 M81.9 428.94 h4.0 M459.3 428.94 h-4.0 M81.9 417.73 h7.7 M459.3 417.73 h-7.7 M81.9 406.51 h4.0 M459.3 406.51 h-4.0"/>
</g>
<g font-size="17.5px">
<text transform="translate(71.3 221.00) scale(0.94 1.07)" text-anchor="end">0.0</text>
<text transform="translate(71.3 198.59) scale(0.94 1.07)" text-anchor="end">0.2</text>
<text transform="translate(71.3 176.18) scale(0.94 1.07)" text-anchor="end">0.4</text>
<text transform="translate(71.3 153.76) scale(0.94 1.07)" text-anchor="end">0.6</text>
<text transform="translate(71.3 131.35) scale(0.94 1.07)" text-anchor="end">0.8</text>
<text transform="translate(71.3 108.94) scale(0.94 1.07)" text-anchor="end">1.0</text>
<text transform="translate(71.3 86.52) scale(0.94 1.07)" text-anchor="end">1.2</text>
<text transform="translate(71.3 64.11) scale(0.94 1.07)" text-anchor="end">1.4</text>
<text transform="translate(71.3 41.70) scale(0.94 1.07)" text-anchor="end">1.6</text>
<text transform="translate(71.3 401.00) scale(0.94 1.07)" text-anchor="end">0.0</text>
<text transform="translate(71.3 363.50) scale(0.94 1.07)" text-anchor="end">0.5</text>
<text transform="translate(71.3 326.00) scale(0.94 1.07)" text-anchor="end">1.0</text>
<text transform="translate(71.3 288.50) scale(0.94 1.07)" text-anchor="end">1.5</text>
<text transform="translate(71.3 251.00) scale(0.94 1.07)" text-anchor="end">2.0</text>
<text transform="translate(71.3 580.40) scale(0.94 1.07)" text-anchor="end">0.0</text>
<text transform="translate(71.3 557.98) scale(0.94 1.07)" text-anchor="end">0.5</text>
<text transform="translate(71.3 535.55) scale(0.94 1.07)" text-anchor="end">1.0</text>
<text transform="translate(71.3 513.13) scale(0.94 1.07)" text-anchor="end">1.5</text>
<text transform="translate(71.3 490.70) scale(0.94 1.07)" text-anchor="end">2.0</text>
<text transform="translate(71.3 468.28) scale(0.94 1.07)" text-anchor="end">2.5</text>
<text transform="translate(71.3 445.85) scale(0.94 1.07)" text-anchor="end">3.0</text>
<text transform="translate(71.3 423.43) scale(0.94 1.07)" text-anchor="end">3.5</text>
<text transform="translate(82.00 592.3) scale(0.95 1.04)" text-anchor="middle">0</text>
<text transform="translate(157.48 592.3) scale(0.95 1.04)" text-anchor="middle">5</text>
<text transform="translate(232.96 592.3) scale(0.95 1.04)" text-anchor="middle">10</text>
<text transform="translate(308.44 592.3) scale(0.95 1.04)" text-anchor="middle">15</text>
<text transform="translate(383.92 592.3) scale(0.95 1.04)" text-anchor="middle">20</text>
<text transform="translate(459.40 592.3) scale(0.95 1.04)" text-anchor="middle">25</text>
</g>
<text x="308.6" y="75.7" font-size="19.75px" xml:space="preserve"><tspan class="it">W</tspan> = 4.04 GeV</text>
<text x="308.6" y="259.0" font-size="19.75px" xml:space="preserve"><tspan class="it">W</tspan> = 4.24 GeV</text>
<text x="308.6" y="433.6" font-size="19.75px" xml:space="preserve"><tspan class="it">W</tspan> = 4.50 GeV</text>
<g font-size="17.5px">
<text x="172.5" y="160.0">final on-shell</text>
<text x="172.5" y="179.6">initial on-shell</text>
<text x="172.5" y="199.2">initial and final on-shell</text>
<text x="172.6" y="142.4" class="it">k</text>
<text x="180.6" y="133.0" font-size="13.5px">0</text>
<text x="180.6" y="146.3" font-size="13.5px">1</text>
<text x="200.0" y="142.9">=</text>
<text x="219.0" y="142.4" class="it">m</text>
<text transform="translate(232.6 146.3) scale(1.15 1)" font-size="12.5px" class="it">N</text>
</g>
<g font-size="17px">
<text x="219.8" y="18.4" font-size="12px">3</text>
<text x="225.0" y="26.4">He(γ,</text>
<text x="267.0" y="26.4" class="it">K</text>
<text x="280.8" y="18.6" font-size="14.5px">+</text>
<text x="290.8" y="26.4">)</text>
<text x="300.8" y="18.4" font-size="12px">3</text>
<text x="300.6" y="31.8" font-size="11px">Λ</text>
<text x="309.4" y="26.4">H</text>
</g>
<g font-size="23px">
<text transform="translate(223.7 620.3) scale(1.06 1)" font-size="24px">θ</text>
<text x="235.8" y="625.8" font-size="13.5px" class="it">K</text>
<text x="238.2" y="607.9" font-size="15.4px">c.m.</text>
<text x="270.0" y="620.3" font-size="22.2px">(deg)</text>
</g>
<g transform="translate(19.2 381) rotate(-90)" font-size="23px">
<text x="0" y="0" class="it">d</text>
<text transform="translate(11.8 -0.6) scale(1.12 1.08)">σ</text>
<text x="25.2" y="5.7" font-size="12px">T</text>
<path d="M36.8 0 L41.8 -5.6" stroke="#000" stroke-width="1.2" fill="none"/>
<text x="46.4" y="0" class="it">d</text>
<text x="58.4" y="0" font-size="22px">Ω</text>
<text x="92.6" y="0" font-size="22.1px">(nb/sr)</text>
</g>
</svg></body></html>
